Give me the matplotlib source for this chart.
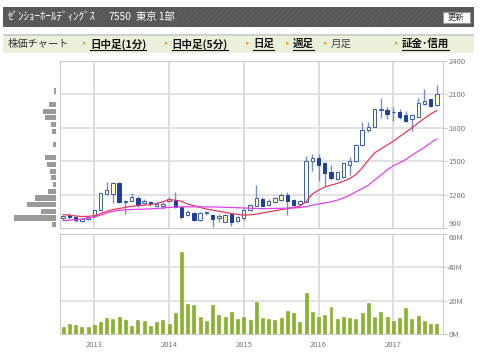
import matplotlib
matplotlib.use('Agg')
import matplotlib.pyplot as plt
from matplotlib.patches import Rectangle
import numpy as np

plt.rcParams['font.family'] = ['Noto Sans CJK JP', 'DejaVu Sans']

# monthly candles, Aug 2012 .. Aug 2017
opens = [990, 1020, 995, 965, 980, 1005, 1060, 1205, 1205, 1300, 1130, 1145, 1165, 1125, 1130, 1100, 1100,
         1140, 1150, 1090, 1015, 1035, 970, 1035, 1020, 990, 955, 1025, 960,
         990, 1060, 1100, 1160, 1105, 1135, 1150, 1200, 1150, 1115, 1135, 1500,
         1525, 1480, 1400, 1340, 1360, 1470, 1500, 1645, 1780, 1810, 1960, 1960,
         1945, 1940, 1915, 1880, 1900, 2015, 2055, 2005]
highs = [1015, 1035, 1000, 985, 1005, 1065, 1225, 1310, 1310, 1310, 1150, 1210, 1185, 1160, 1140, 1130, 1130,
         1180, 1225, 1100, 1060, 1045, 1040, 1055, 1030, 1030, 1030, 1030, 1010,
         1080, 1115, 1290, 1175, 1160, 1180, 1215, 1220, 1160, 1150, 1545, 1565,
         1565, 1490, 1465, 1415, 1485, 1540, 1655, 1855, 1850, 1970, 2065, 1990,
         1990, 1970, 1950, 1920, 2065, 2145, 2060, 2185]
lows = [970, 985, 955, 950, 975, 1000, 1055, 1200, 1125, 1125, 1025, 1140, 1090, 1115, 1100, 1090, 1075,
        1135, 1080, 980, 1005, 965, 965, 1020, 905, 955, 950, 920, 950,
        975, 1050, 1095, 1095, 1100, 1125, 1140, 1020, 1090, 1105, 1130, 1410,
        1320, 1280, 1335, 1330, 1350, 1380, 1495, 1640, 1760, 1805, 1885, 1880,
        1865, 1880, 1855, 1770, 1895, 2005, 1990, 2000]
closes = [1005, 995, 970, 980, 1000, 1060, 1215, 1245, 1300, 1135, 1140, 1180, 1110, 1140, 1115, 1120, 1120,
          1160, 1090, 1000, 1045, 970, 1035, 1040, 980, 1005, 1020, 955, 1000,
          1065, 1105, 1165, 1100, 1145, 1170, 1200, 1145, 1105, 1145, 1500, 1525,
          1465, 1390, 1345, 1400, 1480, 1500, 1650, 1780, 1810, 1965, 1968, 1920,
          1940, 1895, 1860, 1915, 2020, 2040, 1995, 2100]

ma_short = [1020, 1015, 1008, 1003, 1005, 1010, 1030, 1050, 1065, 1075, 1085, 1095, 1100, 1105, 1110, 1120, 1135,
            1155, 1150, 1140, 1115, 1100, 1085, 1070, 1060, 1050, 1040, 1030, 1022,
            1015, 1018, 1025, 1035, 1045, 1055, 1065, 1075, 1085, 1095, 1138, 1205,
            1240, 1268, 1285, 1300, 1320, 1345, 1380, 1440, 1510, 1575, 1610, 1645,
            1680, 1720, 1760, 1800, 1845, 1885, 1925, 1955]
ma_long = [965, 970, 975, 980, 990, 998, 1015, 1035, 1050, 1058, 1063, 1066, 1068, 1070, 1072, 1075, 1080,
           1085, 1088, 1090, 1090, 1090, 1090, 1090, 1089, 1088, 1086, 1084, 1082,
           1080, 1078, 1076, 1075, 1075, 1076, 1077, 1078, 1080, 1083, 1092, 1105,
           1115, 1125, 1135, 1150, 1170, 1195, 1225, 1255, 1285, 1330, 1375, 1420,
           1460, 1485, 1515, 1555, 1590, 1625, 1665, 1700]

# monthly volume, millions of shares
volume = [4.4, 5.8, 5.4, 4.0, 4.0, 5.4, 7.4, 9.4, 8.8, 10.2, 8.4, 4.8, 8.4, 7.8, 4.8, 7.0, 8.4,
          5.8, 12.4, 49.2, 17.8, 17.2, 10.2, 8.0, 17.2, 11.6, 10.0, 13.2, 9.0,
          10.0, 8.4, 19.2, 9.6, 8.8, 8.4, 9.6, 13.8, 12.4, 7.2, 24.6, 13.0,
          10.0, 11.6, 16.2, 8.8, 10.0, 9.6, 8.8, 12.4, 18.4, 10.0, 13.4, 10.4,
          8.0, 9.6, 15.8, 9.2, 10.8, 8.0, 6.0, 6.0]

# volume by price (left side)
profile_levels = [930, 990, 1050, 1110, 1170, 1230, 1290, 1350, 1410, 1470, 1530,
                  1650, 1770, 1830, 1890, 1950, 2010, 2130]
profile_share = [4, 42, 15.3, 29.3, 20.7, 8, 2.7, 5.3, 6, 8.7, 11.3,
                 2.7, 4, 5.3, 10.7, 12.7, 7.3, 2.3]

year_labels = ['2013', '2014', '2015', '2016', '2017']
year_index = [5, 17, 29, 41, 53]
price_ticks = [900, 1200, 1500, 1800, 2100, 2400]
vol_ticks = [0, 20, 40, 60]

W, H = 480, 363
fig = plt.figure(figsize=(W / 100, H / 100), dpi=100)

# page header drawn in pixel coordinates
top = fig.add_axes([0, 0, 1, 1])
top.set_xlim(0, W)
top.set_ylim(H, 0)
top.axis('off')
plt.rcParams['hatch.linewidth'] = 0.6
top.add_patch(Rectangle((3, 7), 471, 20, facecolor='#575757', edgecolor='#626262', hatch='//////', lw=0))
top.text(8, 17, 'ｾﾞﾝｼｮｰﾎｰﾙﾃﾞｨﾝｸﾞｽ', color='white', fontsize=8, va='center', ha='left')
top.text(108, 17, '7550', color='white', fontsize=7.4, va='center', ha='left')
top.text(136, 17, '東京 1部', color='white', fontsize=7.4, va='center', ha='left')
top.add_patch(Rectangle((443, 12), 27, 10.5, facecolor='white', edgecolor='#999999', lw=0.8))
top.text(456.5, 17.3, '更新', color='#333333', fontsize=6, va='center', ha='center')
top.add_patch(Rectangle((3, 33.5), 471, 2, facecolor='#cfcfcf', lw=0))
top.add_patch(Rectangle((3, 35.5), 471, 17, facecolor='#e9f1da', lw=0))
top.text(8, 44, '株価チャート', color='#333333', fontsize=7.4, va='center')

links = [('日中足(1分)', 90, True), ('日中足(5分)', 171.5, True), ('日足', 253, True),
         ('週足', 292.5, True), ('月足', 331, False), ('証金･信用', 402, True)]
fig.canvas.draw()
inv = top.transData.inverted()
for label, x, linked in links:
    top.text(x - 7, 43.5, '▸', color='#f0a020', fontsize=5, va='center')
    t = top.text(x, 44, label, color='#111111' if linked else '#444444', fontsize=7.6,
                 va='center', fontweight='bold' if linked else 'normal')
    if linked:
        bb = t.get_window_extent(renderer=fig.canvas.get_renderer())
        (x0, _), (x1, _) = inv.transform([(bb.x0, bb.y0), (bb.x1, bb.y0)])
        top.plot([x0, x1], [50, 50], color='#111111', lw=0.8)

left_px, right_px = 60, 442.7
axw = (right_px - left_px) / W
ax = fig.add_axes([left_px / W, 1 - 228 / H, axw, 167 / H])
axv = fig.add_axes([left_px / W, 1 - 334 / H, axw, 100 / H])
axh = fig.add_axes([0, 1 - 228 / H, 56 / W, 167 / H], sharey=ax)

x = np.arange(len(closes))
grid_c = '#dddddd'
for a in (ax, axv):
    a.set_xlim(-0.5, 60.93)
    a.set_facecolor('white')
    for s in a.spines.values():
        s.set_color('#cccccc')
    for yi in year_index:
        a.axvline(yi, color=grid_c, lw=1.4, zorder=0)
    a.yaxis.tick_right()
    a.tick_params(axis='y', length=3, width=0.6, color='#bbbbbb', labelcolor='#777777',
                  labelsize=5.5, pad=1)

# price panel
ax.set_ylim(900, 2400)
ax.set_yticks(price_ticks)
ax.get_yticklabels()[0].set_va('bottom')
for p in price_ticks[1:-1]:
    ax.axhline(p, color=grid_c, lw=1.2, zorder=0)
ax.set_xticks([])
o = np.array(opens)
c = np.array(closes)
up = c >= o
ax.vlines(x, lows, highs, color='#6f8fd0', lw=1, zorder=2)
ax.bar(x[up], (c - o)[up], bottom=o[up], width=0.55, color='#fbfbc8', edgecolor='#3a5cb0', lw=0.7, zorder=3)
ax.bar(x[~up], (o - c)[~up], bottom=c[~up], width=0.55, color='#1d3f9e', edgecolor='#1d3f9e', lw=0.7, zorder=3)
ax.plot(x, ma_short, color='#e8385a', lw=0.9, zorder=4)
ax.plot(x, ma_long, color='#e040f0', lw=0.9, zorder=4)

# volume panel
axv.set_ylim(0, 60)
axv.set_yticks(vol_ticks)
axv.set_yticklabels([f'{v}M' for v in vol_ticks])
axv.get_yticklabels()[-1].set_va('top')
for v in vol_ticks[1:-1]:
    axv.axhline(v, color=grid_c, lw=1.2, zorder=0)
axv.bar(x, volume, width=0.48, color='#8ab42c', edgecolor='#7aa322', lw=0.4, zorder=3)
axv.set_xticks(year_index)
axv.set_xticklabels(year_labels)
axv.tick_params(axis='x', length=0, labelcolor='#777777', labelsize=5.5, pad=5)

# volume-by-price histogram
axh.barh(profile_levels, profile_share, height=46, color='#9a9a9a', zorder=2)
axh.set_xlim(56, 0)
axh.axis('off')

fig.savefig('out.png', dpi=100)
